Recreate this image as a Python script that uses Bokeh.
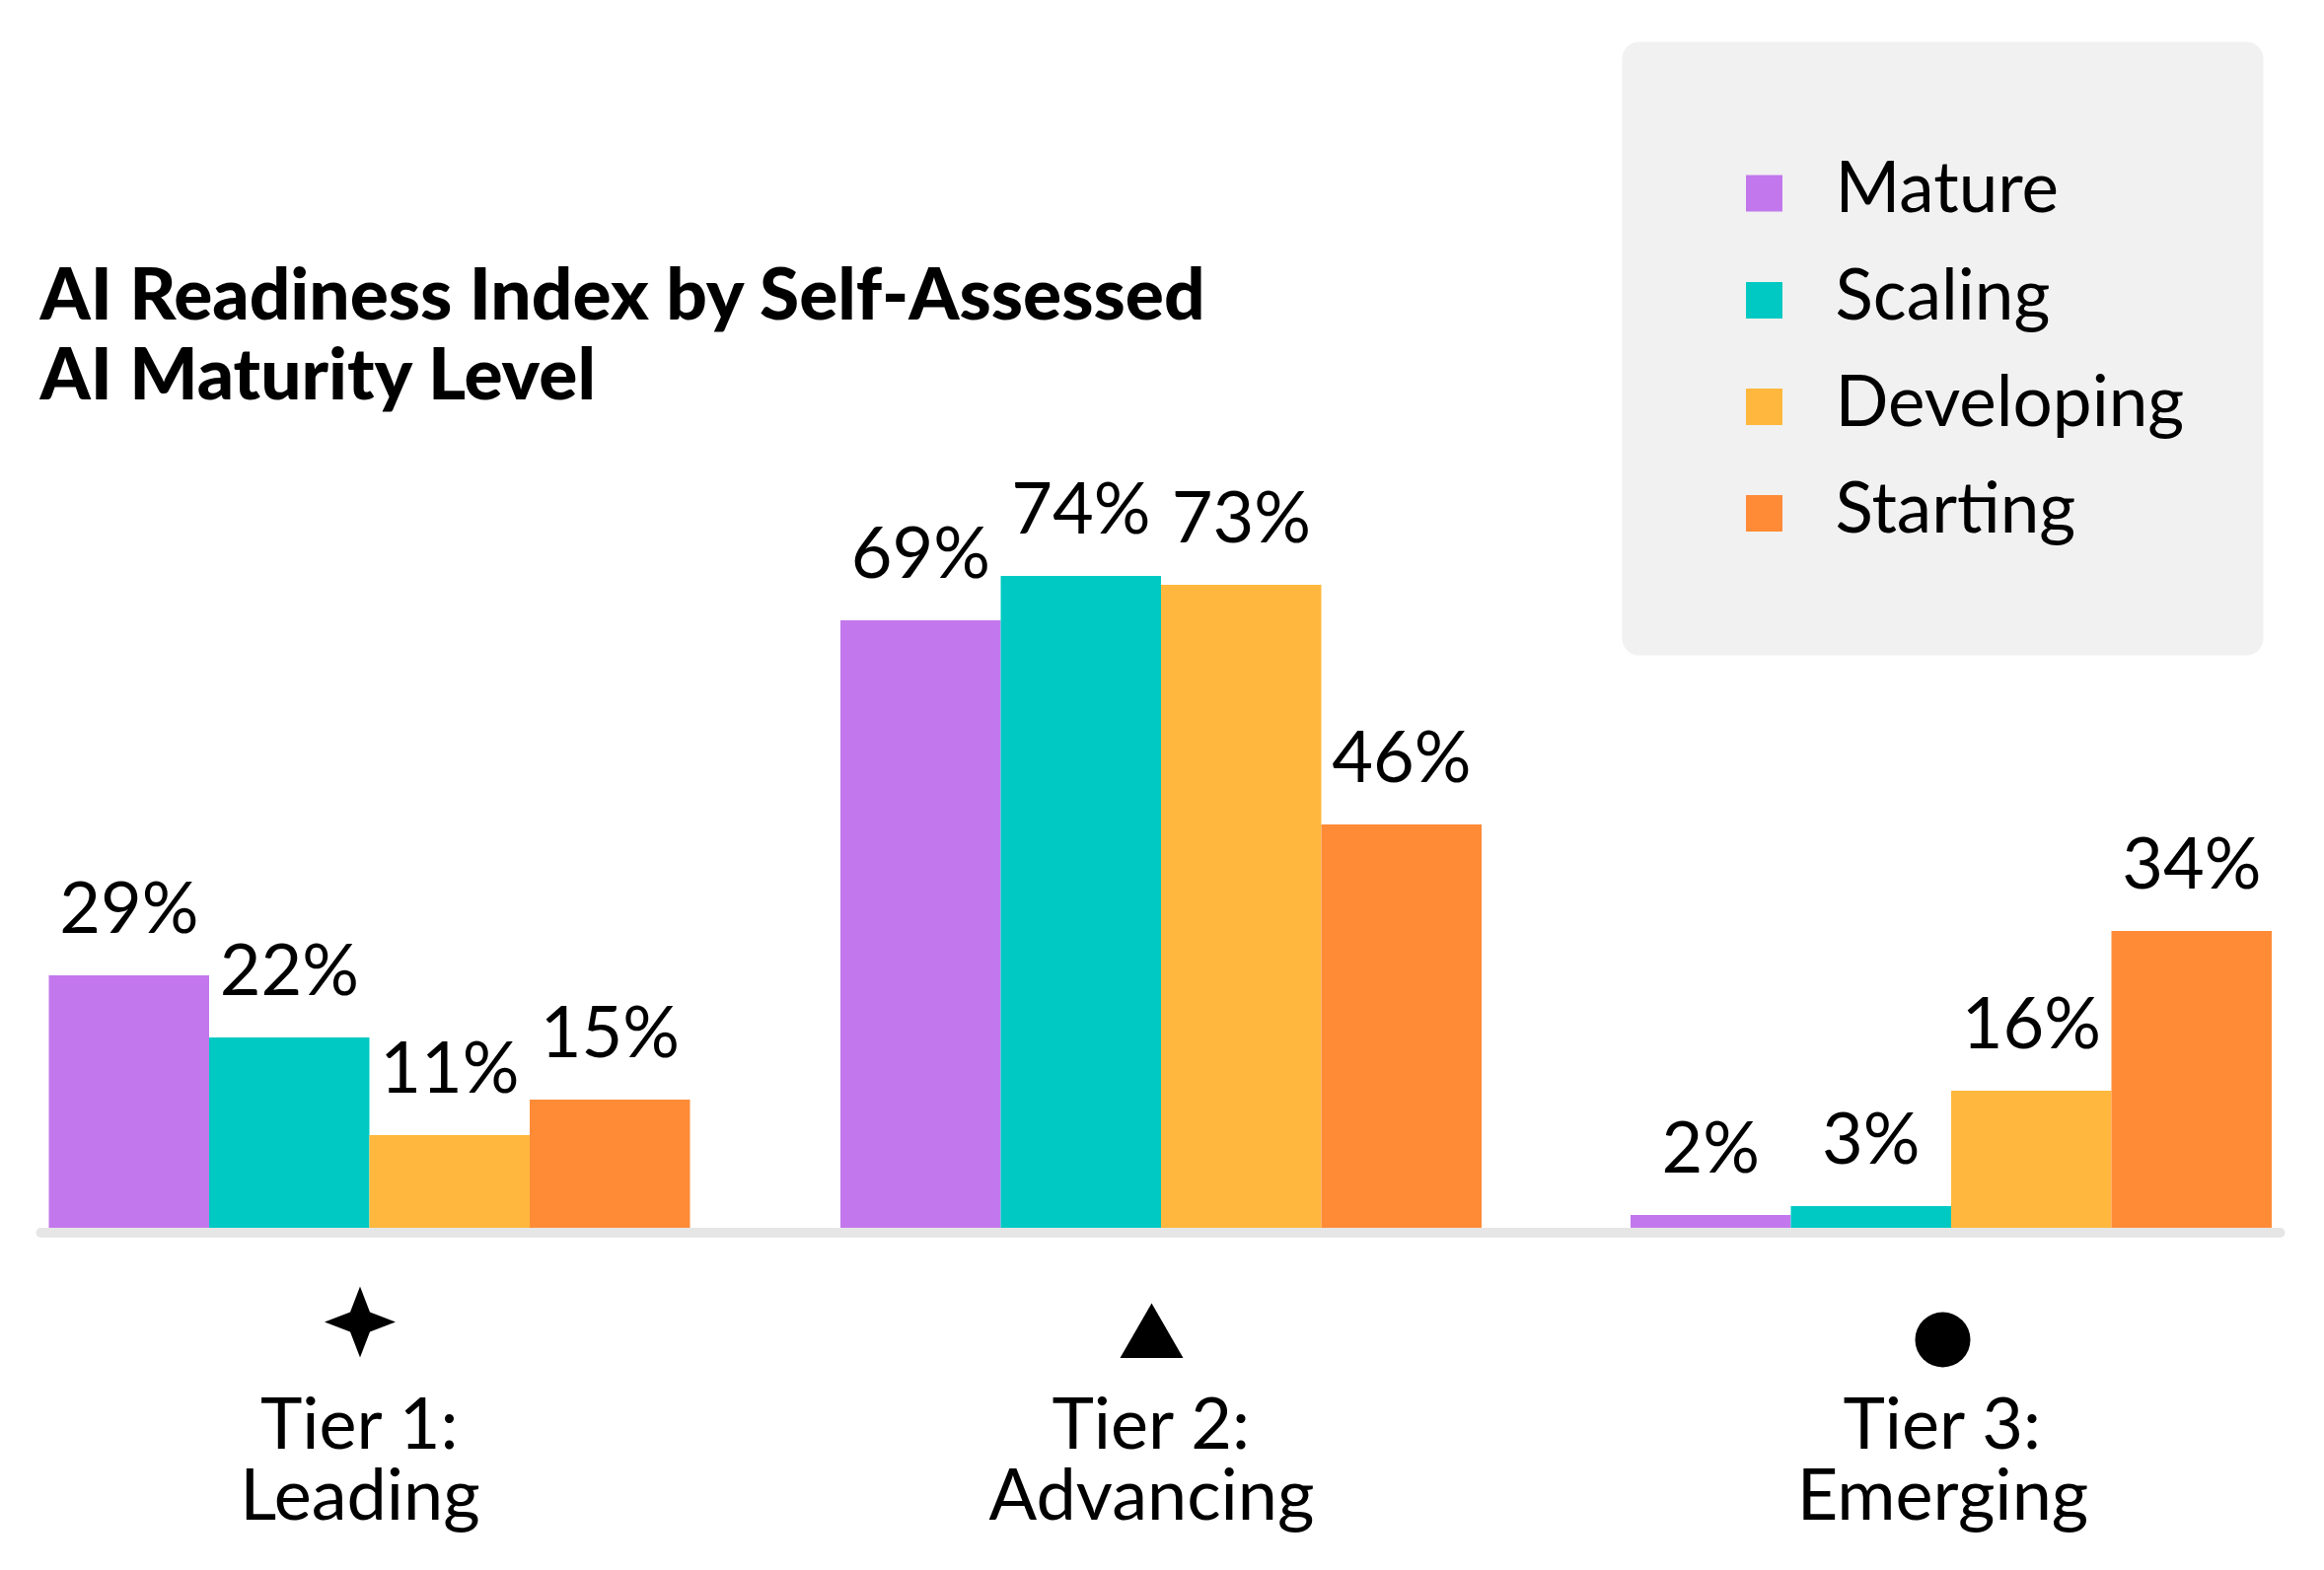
from bokeh.plotting import figure
from bokeh.models import BoxAnnotation, Range1d
from bokeh.core.properties import value
from bokeh.embed import file_html
from bokeh.resources import INLINE

title_lines = ["AI Readiness Index by Self-Assessed", "AI Maturity Level"]
tiers = ["Tier 1:", "Tier 2:", "Tier 3:"]
tier_names = ["Leading", "Advancing", "Emerging"]
series = ["Mature", "Scaling", "Developing", "Starting"]
mature = [29, 69, 2]
scaling = [22, 74, 3]
developing = [11, 73, 16]
starting = [15, 46, 34]
colors = ["#C278EC", "#00C9C3", "#FFB83D", "#FF8B37"]

FONT = "Lato"
W, H = 2340, 1576
Y0, PPU = 1249.5, 9.0
LIFT = 30
def Y(py):
    return (Y0 - py) / PPU

p = figure(width=W, height=H, output_backend="svg", toolbar_location=None,
           x_axis_type=None, y_axis_type=None,
           x_range=Range1d(0, W),
           y_range=Range1d(Y(H), Y(0)),
           min_border=0, outline_line_color=None, background_fill_color="white")
p.grid.visible = False

# legend panel
p.add_layout(BoxAnnotation(left=1644, right=2294, top=Y(42), bottom=Y(664),
                           fill_color="#F1F1F1", fill_alpha=1, line_color=None,
                           border_radius=17, level="underlay"))

group_left = [49, 851.5, 1652.5]
bw = 162.5
for i, (name, vals, col) in enumerate(zip(series, [mature, scaling, developing, starting], colors)):
    xs = [g + bw * (i + 0.5) for g in group_left]
    p.vbar(x=xs, top=vals, bottom=0, width=bw, fill_color=col, line_color=None)
    p.text(x=xs, y=vals, text=[f"{v}%" for v in vals], text_align="center",
           text_baseline="alphabetic", y_offset=-41 - LIFT, text_color="#000000",
           text_font=value(FONT), text_font_size="72px")

# baseline over the bars
p.segment(x0=[41], x1=[2311], y0=[0], y1=[0], line_color="#E6E6E6", line_width=10, line_cap="round")

# legend rows
leg_y = [195.5, 304, 412, 520]
p.rect(x=[1788] * 4, y=[Y(v) for v in leg_y], width=37, height=37 / PPU,
       fill_color=colors, line_color=None)
p.text(x=[1860] * 4, y=[Y(v + 21.5) for v in leg_y], text=series, text_align="left",
       text_baseline="alphabetic", y_offset=-LIFT, text_color="#000000",
       text_font=value(FONT), text_font_size="71px")

# title
for line, py in zip(title_lines, [325, 406]):
    p.text(x=[40], y=[Y(py)], text=[line], text_align="left", text_baseline="alphabetic",
           y_offset=-LIFT, text_color="#000000", text_font=value("Lato Black"),
           text_font_style="bold", text_font_size="73px")

# tier labels
centers = [364.5, 1167, 1969]
p.text(x=centers, y=[Y(1470)] * 3, text=tiers, text_align="center", text_baseline="alphabetic",
       y_offset=-LIFT, text_color="#000000", text_font=value(FONT), text_font_size="72px")
p.text(x=centers, y=[Y(1542)] * 3, text=tier_names, text_align="center", text_baseline="alphabetic",
       y_offset=-LIFT, text_color="#000000", text_font=value(FONT), text_font_size="72px")

# tier icons
cx, cy, a, b = centers[0], 1340, 36, 10
p.patch(x=[cx, cx + b, cx + a, cx + b, cx, cx - b, cx - a, cx - b],
        y=[Y(v) for v in [cy - a, cy - b, cy, cy + b, cy + a, cy + b, cy, cy - b]],
        fill_color="black", line_color=None)
p.scatter(x=[centers[1]], y=[Y(1358)], marker="triangle", size=64, fill_color="black", line_color=None)
p.scatter(x=[centers[2]], y=[Y(1358)], marker="circle", size=56, fill_color="black", line_color=None)

open("out.html", "w").write(file_html(p, INLINE))
